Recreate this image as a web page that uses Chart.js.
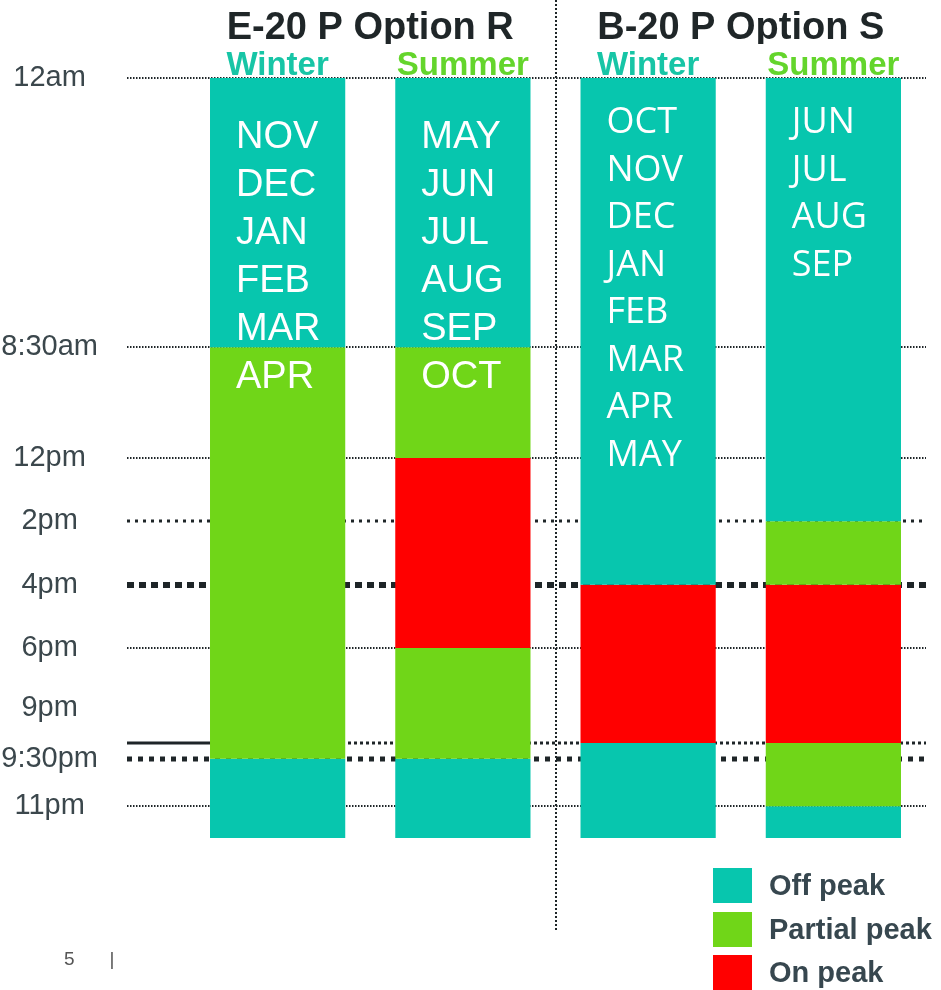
<!DOCTYPE html>
<html>
<head>
<meta charset="utf-8">
<script src="https://cdn.jsdelivr.net/npm/chart.js@4"></script>
<style>
  body { margin: 0; background: #fff; }
  #wrap { position: relative; width: 941px; height: 990px; overflow: hidden; }
  #legend { position: absolute; left: 713px; top: 868px; font: bold 29px "Liberation Sans", Arial, sans-serif; color: #37474f; }
  .row { display: flex; align-items: center; height: 35px; margin-bottom: 8.5px; white-space: nowrap; }
  .swatch { width: 39px; height: 35px; margin-right: 17px; flex: none; }
  #page { position: absolute; left: 64px; top: 948px; font: 19px "Liberation Sans", Arial, sans-serif; color: #555; }
  #page span + span { margin-left: 35px; }
</style>
</head>
<body>
<div id="wrap">
  <canvas id="chart" width="941" height="990"></canvas>
  <div id="legend"></div>
  <div id="page"><span>5</span><span>|</span></div>
</div>
<script>
const planNames = ['E-20 P Option R', 'B-20 P Option S'];
const seasons = ['Winter', 'Summer', 'Winter', 'Summer'];
const seasonColors = { Winter: '#17c5a6', Summer: '#64d52c' };
const periodNames = ['Off peak', 'Partial peak', 'On peak'];
const periodColors = ['#07c6ae', '#70d618', '#ff0000'];

// hours after midnight, each segment is [start, end, period index]
const e20Winter = [[0, 8.5, 0], [8.5, 21.5, 1], [21.5, 24, 0]];
const e20Summer = [[0, 8.5, 0], [8.5, 12, 1], [12, 18, 2], [18, 21.5, 1], [21.5, 24, 0]];
const b20Winter = [[0, 16, 0], [16, 21, 2], [21, 24, 0]];
const b20Summer = [[0, 14, 0], [14, 16, 1], [16, 21, 2], [21, 23, 1], [23, 24, 0]];
const columns = [e20Winter, e20Summer, b20Winter, b20Summer];

const e20WinterMonths = ['NOV', 'DEC', 'JAN', 'FEB', 'MAR', 'APR'];
const e20SummerMonths = ['MAY', 'JUN', 'JUL', 'AUG', 'SEP', 'OCT'];
const b20WinterMonths = ['OCT', 'NOV', 'DEC', 'JAN', 'FEB', 'MAR', 'APR', 'MAY'];
const b20SummerMonths = ['JUN', 'JUL', 'AUG', 'SEP'];
const monthLists = [e20WinterMonths, e20SummerMonths, b20WinterMonths, b20SummerMonths];

const tickHours = [0, 8.5, 12, 14, 16, 18, 21, 21.5, 23];
const tickLabels = ['12am', '8:30am', '12pm', '2pm', '4pm', '6pm', '9pm', '9:30pm', '11pm'];

// line look for each hour line (default is a thin dotted line)
const thinLine = { width: 2, dash: [1.5, 1.5] };
const lineStyle = {
  14: { width: 3, dash: [3, 5] },
  16: { width: 6, dash: [7, 5] },
  21: { width: 3, dash: [3, 3], solidLead: true },
  21.5: { width: 5, dash: [5, 6] }
};

// month text look per plan (E-20 columns, B-20 columns)
const monthText = [
  { font: '38px "Liberation Sans", Arial, sans-serif', first: 70, step: 48 },
  { font: '36px "Open Sans", sans-serif', first: 55, step: 47.5 }
];

function buildDatasets() {
  const slots = Math.max(...columns.map(c => c.length));
  const sets = [];
  for (let k = 0; k < slots; k++) {
    sets.push({
      label: 'segment ' + k,
      data: columns.map(c => c[k] ? [c[k][0], c[k][1]] : null),
      backgroundColor: columns.map(c => c[k] ? periodColors[c[k][2]] : 'transparent'),
      grouped: false,
      barPercentage: 0.73,
      categoryPercentage: 1,
      borderWidth: 0
    });
  }
  return sets;
}

const decor = {
  id: 'decor',
  beforeDatasetsDraw(chart) {
    const { ctx, chartArea } = chart;
    const x = chart.scales.x, y = chart.scales.y;
    const first = chart.getDatasetMeta(0).data[0];
    const barLeft = first.x - first.width / 2;
    const lineStart = 127, lineEnd = chartArea.right;
    ctx.save();
    ctx.strokeStyle = '#1e2528';
    tickHours.forEach(h => {
      const st = lineStyle[h] || thinLine;
      const py = Math.round(y.getPixelForValue(h));
      let from = lineStart;
      ctx.lineWidth = st.width;
      if (st.solidLead) {
        ctx.setLineDash([]);
        ctx.beginPath(); ctx.moveTo(from, py); ctx.lineTo(barLeft, py); ctx.stroke();
        from = barLeft;
      }
      ctx.setLineDash(st.dash);
      ctx.beginPath(); ctx.moveTo(from, py); ctx.lineTo(lineEnd, py); ctx.stroke();
    });
    // divider between the two plans
    const dx = Math.round(x.getPixelForValue(1.5));
    ctx.lineWidth = 2;
    ctx.setLineDash([2, 2]);
    ctx.beginPath(); ctx.moveTo(dx, 0); ctx.lineTo(dx, 930); ctx.stroke();
    ctx.restore();
  },
  afterDatasetsDraw(chart) {
    const { ctx } = chart;
    const bars = chart.getDatasetMeta(0).data;
    ctx.save();
    ctx.fillStyle = '#ffffff';
    ctx.textAlign = 'left';
    ctx.textBaseline = 'alphabetic';
    monthLists.forEach((months, i) => {
      const bar = bars[i];
      const look = monthText[i < 2 ? 0 : 1];
      const left = bar.x - bar.width / 2 + 26;
      const top = Math.min(bar.y, bar.base);
      ctx.font = look.font;
      months.forEach((m, j) => ctx.fillText(m, left, top + look.first + j * look.step));
    });
    ctx.restore();
  }
};

new Chart(document.getElementById('chart'), {
  type: 'bar',
  data: { labels: seasons, datasets: buildDatasets() },
  options: {
    responsive: false,
    animation: false,
    layout: { padding: { top: 0, right: 15, bottom: 152, left: 0 } },
    plugins: { legend: { display: false }, tooltip: { enabled: false } },
    scales: {
      x: {
        position: 'top',
        weight: 0,
        grid: { display: false },
        border: { display: false },
        ticks: {
          color: ctx => seasonColors[seasons[ctx.index]],
          font: { family: '"Liberation Sans", Arial, sans-serif', size: 33, weight: 'bold', lineHeight: 1 },
          padding: -12,
          maxRotation: 0,
          autoSkip: false
        },
        afterFit: s => { s.height = 34; }
      },
      plan: {
        type: 'category',
        axis: 'x',
        labels: planNames,
        position: 'top',
        weight: 1,
        grid: { display: false },
        border: { display: false },
        ticks: {
          color: '#1f2628',
          font: { family: '"Liberation Sans", Arial, sans-serif', size: 38, weight: 'bold', lineHeight: 1 },
          padding: -12,
          maxRotation: 0
        },
        afterFit: s => { s.height = 44; }
      },
      y: {
        min: 0,
        max: 24,
        reverse: true,
        grid: { display: false },
        border: { display: false },
        afterBuildTicks: s => { s.ticks = tickHours.map(v => ({ value: v })); },
        afterFit: s => {
          s.width = 185;
          // the wide label padding should not push the plot area down
          s.paddingTop = 0;
          s.paddingBottom = 0;
        },
        ticks: {
          autoSkip: false,
          crossAlign: 'center',
          padding: 79,
          color: '#3b474c',
          font: { family: '"Liberation Sans", Arial, sans-serif', size: 29 },
          // 9pm sits right above 9:30pm, lift it by one line
          callback: (v, i) => tickLabels[i] === '9pm' ? [tickLabels[i], '', ''] : tickLabels[i]
        }
      }
    }
  },
  plugins: [decor]
});

const legend = document.getElementById('legend');
periodNames.forEach((name, i) => {
  const row = document.createElement('div');
  row.className = 'row';
  const sw = document.createElement('span');
  sw.className = 'swatch';
  sw.style.background = periodColors[i];
  const txt = document.createElement('span');
  txt.textContent = name;
  row.appendChild(sw);
  row.appendChild(txt);
  legend.appendChild(row);
});
</script>
</body>
</html>
